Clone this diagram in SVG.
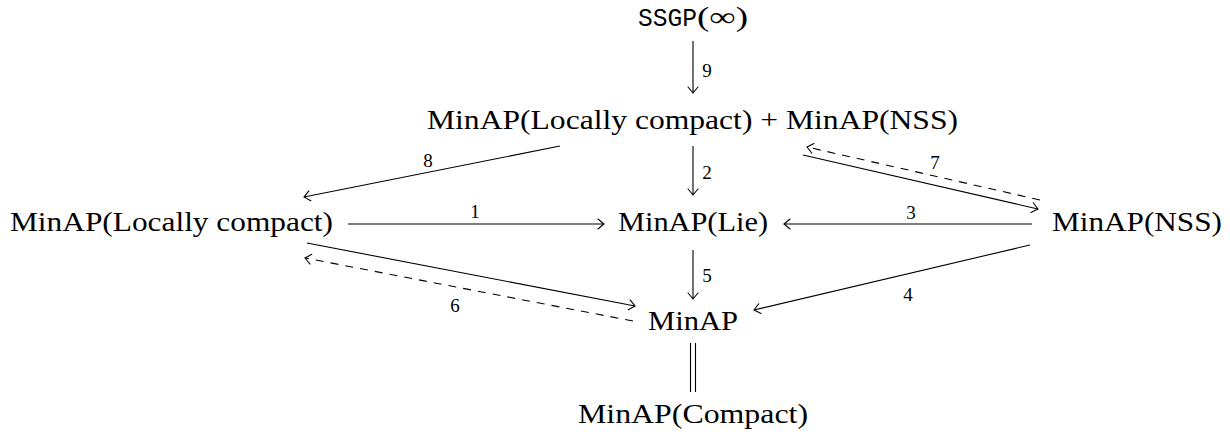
<svg xmlns="http://www.w3.org/2000/svg" width="1230" height="435" viewBox="0 0 1230 435">
<style>
  .n { font-family: "Liberation Serif", "Times New Roman", serif; font-size: 27px; fill: #000; }
  .m { font-family: "Liberation Mono", "Courier New", monospace; font-size: 25px; fill: #000; }
  .l { font-family: "Liberation Serif", "Times New Roman", serif; font-size: 19px; fill: #000; text-anchor: middle; }
  .c { fill: none; stroke: #000; stroke-width: 1.1; }
  .d { stroke-dasharray: 8 7; }
</style>
<defs>
  <marker id="to" markerUnits="userSpaceOnUse" markerWidth="14" markerHeight="14" refX="0" refY="0" viewBox="-8 -7 10 14" orient="auto" overflow="visible">
    <path d="M -6 -5 Q -1.5 -1.2 0 0 Q -1.5 1.2 -6 5" fill="none" stroke="#000" stroke-width="1.1" stroke-linecap="round"/>
  </marker>
</defs>
<g id="ssgp"><text class="m" x="638" y="26" textLength="59" lengthAdjust="spacingAndGlyphs">SSGP</text><text class="n" x="697" y="26" textLength="51" lengthAdjust="spacingAndGlyphs">(∞)</text></g>
<g id="lc-nss"><text class="n" x="427" y="129" textLength="531" lengthAdjust="spacingAndGlyphs">MinAP(Locally compact) + MinAP(NSS)</text></g>
<g id="lc"><text class="n" x="10" y="231" textLength="323" lengthAdjust="spacingAndGlyphs">MinAP(Locally compact)</text></g>
<g id="lie"><text class="n" x="618" y="231" textLength="150" lengthAdjust="spacingAndGlyphs">MinAP(Lie)</text></g>
<g id="nss"><text class="n" x="1052" y="231" textLength="170" lengthAdjust="spacingAndGlyphs">MinAP(NSS)</text></g>
<g id="minap"><text class="n" x="648" y="330" textLength="90" lengthAdjust="spacingAndGlyphs">MinAP</text></g>
<g id="compact"><text class="n" x="578" y="423" textLength="230" lengthAdjust="spacingAndGlyphs">MinAP(Compact)</text></g>
<g id="connectors">
  <line class="c" x1="693" y1="41" x2="693" y2="93" marker-end="url(#to)"/>
  <text class="l" x="707" y="77">9</text>
  <line class="c" x1="693" y1="146" x2="693" y2="195" marker-end="url(#to)"/>
  <text class="l" x="707" y="179">2</text>
  <line class="c" x1="693" y1="250" x2="693" y2="299" marker-end="url(#to)"/>
  <text class="l" x="707" y="282">5</text>
  <line class="c" x1="560" y1="146" x2="304" y2="197" marker-end="url(#to)"/>
  <text class="l" x="428" y="167">8</text>
  <line class="c" x1="348" y1="224" x2="604" y2="224" marker-end="url(#to)"/>
  <text class="l" x="475" y="218">1</text>
  <line class="c" x1="1032" y1="224" x2="784" y2="224" marker-end="url(#to)"/>
  <text class="l" x="911" y="219">3</text>
  <line class="c" x1="803" y1="155" x2="1038" y2="209" marker-end="url(#to)"/>
  <line class="c d" x1="1040" y1="200" x2="807" y2="147" marker-end="url(#to)"/>
  <text class="l" x="935" y="169">7</text>
  <line class="c" x1="1030" y1="245" x2="754" y2="310" marker-end="url(#to)"/>
  <text class="l" x="908" y="301">4</text>
  <line class="c" x1="307" y1="243" x2="635" y2="306" marker-end="url(#to)"/>
  <line class="c d" x1="633" y1="321" x2="305" y2="258" marker-end="url(#to)"/>
  <text class="l" x="455" y="312">6</text>
  <line class="c" x1="690.5" y1="343" x2="690.5" y2="392"/>
  <line class="c" x1="695.5" y1="343" x2="695.5" y2="392"/>
</g>
</svg>
